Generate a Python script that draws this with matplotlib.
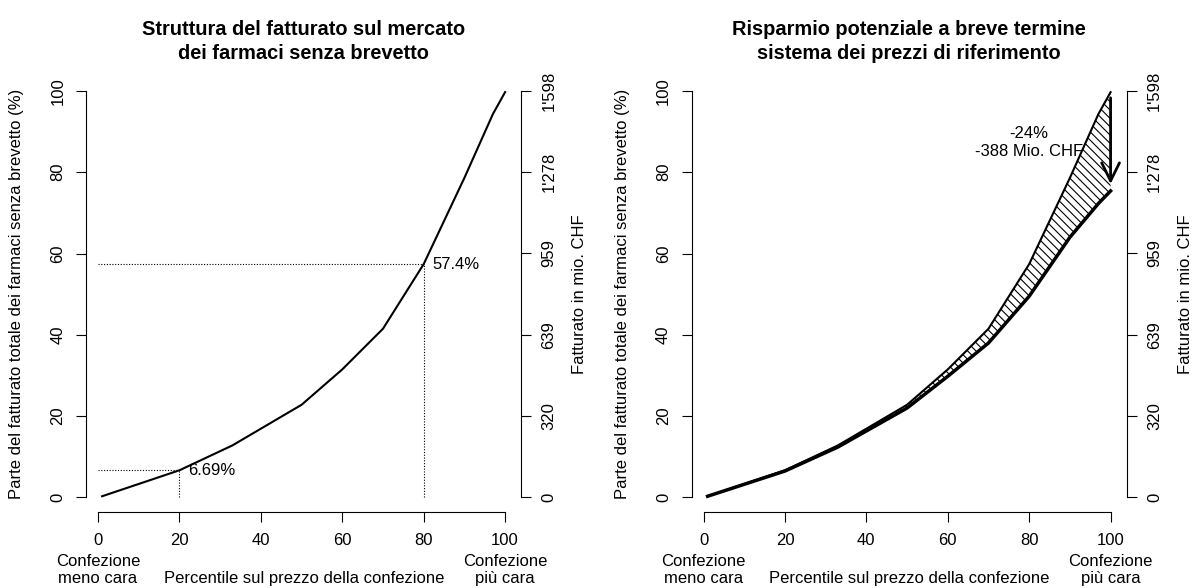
import matplotlib.pyplot as plt
from matplotlib.transforms import blended_transform_factory

plt.rcParams['font.family'] = ['Liberation Sans', 'DejaVu Sans']
plt.rcParams['font.size'] = 12
plt.rcParams['hatch.linewidth'] = 0.8

# percentile sul prezzo della confezione
perc = [1, 20, 33, 50, 60, 70, 80, 90, 97, 100]
# quota cumulata del fatturato (%)
quota = [0.3, 6.69, 12.8, 22.8, 31.5, 41.5, 57.4, 78.6, 94.3, 99.7]
# quota dopo il sistema dei prezzi di riferimento (%)
quota_rif = [0.3, 6.5, 12.4, 22.0, 29.8, 38.0, 49.5, 64.0, 72.3, 75.4]

punti = [20, 80]
valori = [6.69, 57.4]

yticks = [0, 20, 40, 60, 80, 100]
xticks = [0, 20, 40, 60, 80, 100]
fatturato_tot = 1598  # mio. CHF
chf_ticks = [0, 320, 639, 959, 1278, 1598]
chf_labels = ['0', '320', '639', '959', "1'278", "1'598"]

risparmio_pct = -24
risparmio_chf = -388

titoli = ['Struttura del fatturato sul mercato\ndei farmaci senza brevetto',
          'Risparmio potenziale a breve termine\nsistema dei prezzi di riferimento']

W, H = 1197, 588
fig = plt.figure(figsize=(W / 100, H / 100), dpi=100)


def pannello(left_px, titolo):
    ax = fig.add_axes([left_px / W, (H - 512.1) / H, 435.2 / W, 435.8 / H])
    ax.set_xlim(-2.96, 103.96)
    ax.set_ylim(-3.6, 103.6)
    ax.set_xticks(xticks)
    ax.set_yticks(yticks)
    for s in ['top', 'right']:
        ax.spines[s].set_visible(False)
    ax.spines['left'].set_bounds(0, 100)
    ax.spines['bottom'].set_bounds(0, 100)
    for s in ['left', 'bottom']:
        ax.spines[s].set_linewidth(0.8)
    ax.tick_params(length=7.2, width=0.8)
    ax.tick_params(axis='x', pad=7.5)
    ax.tick_params(axis='y', labelrotation=90, pad=7.5)
    for lab in ax.get_yticklabels():
        lab.set_va('center')
    ax.set_ylabel('Parte del fatturato totale dei farmaci senza brevetto (%)', va='center')
    ax.yaxis.set_label_coords((17 - 86) / 435.2, 0.5)

    ax2 = ax.twinx()
    ax2.set_ylim(-3.6 * fatturato_tot / 100, 103.6 * fatturato_tot / 100)
    ax2.set_yticks(chf_ticks, chf_labels)
    for s in ['top', 'left', 'bottom']:
        ax2.spines[s].set_visible(False)
    ax2.spines['right'].set_bounds(0, fatturato_tot)
    ax2.spines['right'].set_linewidth(0.8)
    ax2.tick_params(length=7.2, width=0.8, labelrotation=90, pad=7.5)
    for lab in ax2.get_yticklabels():
        lab.set_va('center')
    ax2.set_ylabel('Fatturato in mio. CHF', rotation=90, va='center')
    ax2.yaxis.set_label_coords((580 - 86) / 435.2, 0.5)

    tr = blended_transform_factory(ax.transData, ax.transAxes)
    ax.text(0, -0.1329, 'Confezione\nmeno cara', transform=tr, ha='center', va='center', linespacing=1.1)
    ax.text(100, -0.1329, 'Confezione\npiù cara', transform=tr, ha='center', va='center', linespacing=1.1)
    ax.text(50.6, -0.1535, 'Percentile sul prezzo della confezione', transform=tr, ha='center', va='center')

    ax.text(0.5, 1.0799, titolo, transform=ax.transAxes, ha='center', va='center',
            fontsize=14.4, fontweight='bold', linespacing=1.3)
    return ax


# pannello sinistro
ax = pannello(86, titoli[0])
ax.plot(perc, quota, color='k', lw=1.5)
for p, v in zip(punti, valori):
    ax.plot([0, p], [v, v], color='k', lw=0.8, ls=(0, (1, 1.5)))
    ax.plot([p, p], [0, v], color='k', lw=0.8, ls=(0, (1, 1.5)))
    ax.annotate(f'{v:g}%', (p, v), xytext=(6, 0), textcoords='offset points', va='center')

# pannello destro
ax = pannello(691.5, titoli[1])
ax.fill_between(perc, quota_rif, quota, facecolor='none', edgecolor='k', hatch='\\' * 4, lw=0)
ax.plot(perc, quota, color='k', lw=1.5)
ax.plot(perc, quota_rif, color='k', lw=2.5)
ax.annotate('', xy=(100, quota_rif[-1] + 1.7), xytext=(100, quota[-1] - 1.4),
            arrowprops=dict(arrowstyle='->,head_length=0.65,head_width=0.32', lw=2, color='k',
                            mutation_scale=20, shrinkA=0, shrinkB=0))
ax.text(80, 87.3, f'{risparmio_pct}%\n{risparmio_chf} Mio. CHF', ha='center', va='center')

fig.savefig('out.png', dpi=100)
